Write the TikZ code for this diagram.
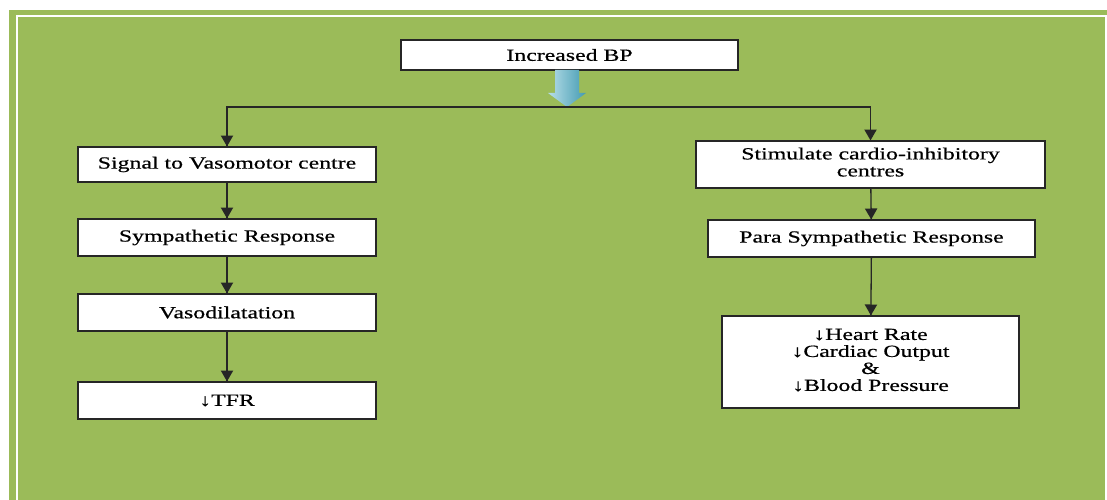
\documentclass[tikz,border=0pt]{standalone}
\usepackage{fontspec}
\setmainfont[FakeBold=0.5]{Liberation Serif}
\usetikzlibrary{arrows}
\usetikzlibrary{decorations.markings}
\usetikzlibrary{positioning}
\definecolor{olivebg}{HTML}{9BBB59}
\definecolor{aquatop}{HTML}{4BACC6}
\tikzset{flow/.style = {draw = black!85, line width = 1.3,
                        decoration={markings,
                                    mark=at position 1 with {\arrow[scale=1.3]{triangle 60}}},
                        postaction={decorate}}}
\tikzset{box/.style = {draw = black!85, fill = white, line width = 1.2,
                       inner sep = 0, font = \fontsize{17}{17}\selectfont}}
\newcommand{\widetxt}[1]{\scalebox{1.4}[1]{#1}}

\begin{document}
\begin{tikzpicture}[x = 1pt, y = -1pt]
    \clip (0, 0) rectangle (1107, 500);
    \fill [white] (0, 0) rectangle (1107, 500);
    \fill [olivebg] (9, 10) rectangle (1107, 500);
    \draw [white, line width = 2] (17, 16) rectangle (1106, 520);

    \node [box, minimum width = 337, minimum height = 30] (bp) at (569.5, 55) {\widetxt{Increased BP}};

    \node [box, minimum width = 298, minimum height = 35] (sig) at (227, 164.5) {\widetxt{Signal to Vasomotor centre}};
    \node [box, minimum width = 298, minimum height = 37] (symp) at (227, 237.5) {\widetxt{Sympathetic Response}};
    \node [box, minimum width = 298, minimum height = 37] (vaso) at (227, 312.5) {\widetxt{Vasodilatation}};
    \node [box, minimum width = 298, minimum height = 37] (tfr) at (227, 400.5) {\widetxt{↓TFR}};

    \node [box, minimum width = 349, minimum height = 47] (stim) at (870.5, 164.5)
        {\widetxt{\begin{tabular}{@{}c@{}}Stimulate cardio-inhibitory\\centres\end{tabular}}};
    \node [box, minimum width = 327, minimum height = 37] (para) at (871.5, 238.5) {\widetxt{Para Sympathetic Response}};
    \node [box, minimum width = 297, minimum height = 92] (out) at (870.5, 362)
        {\raisebox{4pt}{\widetxt{\begin{tabular}{@{}c@{}}↓Heart Rate\\↓Cardiac Output\\\&\\↓Blood Pressure\end{tabular}}}};

    \coordinate (split) at (567, 107);

    % fat arrow out of the top box
    \shade [left color = aquatop!40!white, right color = aquatop!90!black]
        (555, 70) -- (579, 70) -- (579, 93) -- (586, 93) -- (split) -- (548, 93) -- (555, 93) -- cycle;

    \draw [flow] (split) -| (sig.north);
    \draw [flow] (split) -| (stim.north);

    \draw [flow] (sig) -- (symp);
    \draw [flow] (symp) -- (vaso);
    \draw [flow] (vaso) -- (tfr);

    \draw [flow] (stim) -- (para);
    \draw [flow] (para) -- (out);
  \end{tikzpicture}
\end{document}
